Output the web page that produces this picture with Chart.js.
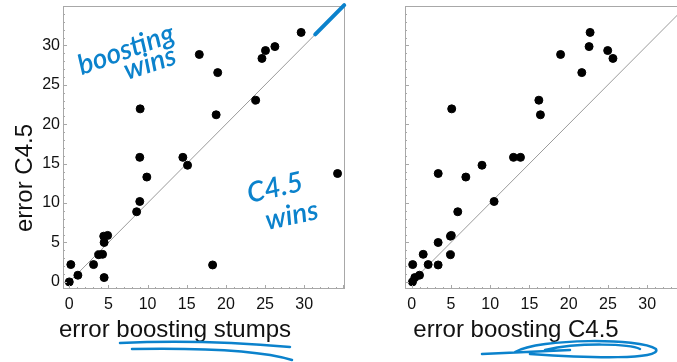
<!DOCTYPE html>
<html>
<head>
<meta charset="utf-8">
<script src="https://cdn.jsdelivr.net/npm/chart.js@4.4.1/dist/chart.umd.min.js"></script>
<style>
  html, body { margin: 0; padding: 0; background: #fff; overflow: hidden; width: 677px; height: 362px; }
  .plot { position: absolute; top: 0; }
</style>
</head>
<body>
<div class="plot" style="left:0"><canvas id="leftChart" width="350" height="362"></canvas></div>
<div class="plot" style="left:340px"><canvas id="rightChart" width="360" height="362"></canvas></div>
<script>
// error of plain C4.5 on each dataset (y of both plots)
const c45Err = [0, 2.2, 0.85, 2.2, 3.45, 3.5, 0.55, 5.0, 5.8, 5.9, 8.9, 10.2, 13.3, 15.8, 21.95,
  15.8, 14.8, 28.85, 2.15, 21.2, 26.55, 23.05, 28.35, 29.35, 29.85, 31.65, 13.75];
// error of boosting stumps (x of left plot)
const stumpsErr = [0, 0.2, 1.1, 3.1, 3.75, 4.25, 4.45, 4.45, 4.4, 4.9, 8.6, 9.0, 9.9, 9.0, 9.05,
  14.5, 15.1, 16.6, 18.3, 18.75, 18.95, 23.8, 24.6, 25.05, 26.25, 29.6, 34.25];
// error of boosting C4.5 (x of right plot)
const boostC45Err = [0.1, 0.13, 1.0, 2.1, 4.94, 1.47, 0.4, 3.37, 4.94, 5.05, 5.87, 10.5, 6.9, 12.97, 5.1,
  13.86, 8.96, 18.97, 3.37, 16.4, 21.67, 16.2, 25.64, 24.97, 22.6, 22.73, 3.38];
const diagEnds = [0, 35];
const tickVals = [0, 5, 10, 15, 20, 25, 30];

const inkBlue = '#0b82cc';
const labelFont = '"Liberation Sans", Arial, sans-serif';

// frame, small inner ticks, axis titles and the blue hand notes
const frameAndNotes = {
  id: 'frameAndNotes',
  afterDatasetsDraw(chart, args, opts) {
    const { ctx, chartArea: a, scales } = chart;
    const sx = scales.x, sy = scales.y;
    ctx.save();
    ctx.strokeStyle = '#a8a8a8';
    ctx.lineWidth = 1;
    ctx.strokeRect(a.left + 0.5, a.top + 0.5, a.right - a.left - 1, a.bottom - a.top - 1);
    ctx.beginPath();
    for (let v = 0; v <= 35; v++) {
      const len = v % 5 === 0 ? 4 : 2;
      const px = Math.round(sx.getPixelForValue(v)) + 0.5;
      if (px < a.right - 1) { ctx.moveTo(px, a.bottom); ctx.lineTo(px, a.bottom - len); }
      const py = Math.round(sy.getPixelForValue(v)) + 0.5;
      if (py > a.top + 1) { ctx.moveTo(a.left, py); ctx.lineTo(a.left + len, py); }
    }
    ctx.stroke();

    ctx.fillStyle = '#111';
    ctx.font = '24px ' + labelFont;
    ctx.textAlign = 'center';
    ctx.textBaseline = 'alphabetic';
    ctx.fillText(opts.xTitle, opts.xTitleX, 337);
    if (opts.yTitle) {
      ctx.save();
      ctx.translate(32, 178);
      ctx.rotate(-Math.PI / 2);
      ctx.fillText(opts.yTitle, 0, 0);
      ctx.restore();
    }

    // hand notes
    ctx.fillStyle = inkBlue;
    ctx.strokeStyle = inkBlue;
    ctx.textAlign = 'left';
    (opts.notes || []).forEach(n => {
      ctx.save();
      ctx.translate(sx.getPixelForValue(n.x), sy.getPixelForValue(n.y));
      ctx.rotate(n.angle * Math.PI / 180);
      ctx.font = 'italic 600 28px Lato, "Open Sans", sans-serif';
      ctx.fillText(n.text, 0, 0);
      ctx.restore();
    });
    if (opts.stroke) {
      ctx.lineCap = 'round';
      ctx.lineWidth = 4;
      ctx.beginPath();
      ctx.moveTo(sx.getPixelForValue(opts.stroke[0]), sy.getPixelForValue(opts.stroke[0]));
      ctx.lineTo(sx.getPixelForValue(opts.stroke[1]), sy.getPixelForValue(opts.stroke[1]));
      ctx.stroke();
    }
    if (opts.scribble) {
      ctx.lineWidth = 2.5;
      ctx.lineCap = 'round';
      opts.scribble(ctx);
    }
    ctx.restore();
  }
};

function makeChart(id, xs, xMin, padRight, yAxisWidth, showYLabels, pluginOpts) {
  const pts = xs.map((x, i) => ({ x: x, y: c45Err[i] }));
  return new Chart(document.getElementById(id), {
    type: 'scatter',
    data: {
      datasets: [
        {
          data: pts,
          backgroundColor: '#000',
          borderColor: '#000',
          pointRadius: 4,
          order: 0
        },
        {
          type: 'line',
          data: diagEnds.map(v => ({ x: v, y: v })),
          borderColor: '#9a9a9a',
          borderWidth: 1,
          pointRadius: 0,
          order: 1
        }
      ]
    },
    options: {
      responsive: false,
      animation: false,
      events: [],
      layout: { padding: { top: 6, right: padRight, left: 0, bottom: 0 } },
      plugins: {
        legend: { display: false },
        tooltip: { enabled: false },
        frameAndNotes: pluginOpts
      },
      scales: {
        x: {
          type: 'linear',
          min: xMin,
          max: 35.2,
          grid: { display: false, drawTicks: false },
          border: { display: false },
          afterBuildTicks: s => { s.ticks = tickVals.map(v => ({ value: v })); },
          afterFit: s => { s.height = 73; s.paddingLeft = 0; s.paddingRight = 0; },
          ticks: { padding: 6, color: '#111', font: { size: 16, family: labelFont } }
        },
        y: {
          type: 'linear',
          min: -0.9,
          max: 35,
          grid: { display: false, drawTicks: false },
          border: { display: false },
          afterBuildTicks: s => { s.ticks = tickVals.map(v => ({ value: v })); },
          afterFit: s => { s.width = yAxisWidth; s.paddingTop = 0; s.paddingBottom = 0; },
          ticks: { display: showYLabels, padding: 3, color: '#111', font: { size: 16, family: labelFont } }
        }
      }
    },
    plugins: [frameAndNotes]
  });
}

makeChart('leftChart', stumpsErr, -0.8, 5, 63, true, {
  xTitle: 'error boosting stumps',
  xTitleX: 175,
  yTitle: 'error C4.5',
  notes: [
    { text: 'boosting', x: 1.6, y: 26.2, angle: -20 },
    { text: 'wins', x: 7.4, y: 25.6, angle: -18 },
    { text: 'C4.5', x: 23.0, y: 10.0, angle: -13 },
    { text: 'wins', x: 25.3, y: 6.6, angle: -12 }
  ],
  stroke: [31.4, 35.1],
  scribble: ctx => {
    ctx.beginPath();
    ctx.moveTo(120, 343);
    ctx.quadraticCurveTo(200, 339, 290, 347);
    ctx.moveTo(132, 349);
    ctx.quadraticCurveTo(250, 347, 292, 360);
    ctx.stroke();
  }
});

makeChart('rightChart', boostC45Err, -0.85, 12, 65, false, {
  xTitle: 'error boosting C4.5',
  xTitleX: 176,
  scribble: ctx => {
    ctx.beginPath();
    ctx.moveTo(142, 354);
    ctx.lineTo(230, 350);
    ctx.moveTo(175, 352);
    ctx.bezierCurveTo(200, 338, 300, 338, 316, 349);
    ctx.bezierCurveTo(322, 360, 250, 358, 190, 354);
    ctx.moveTo(205, 350);
    ctx.bezierCurveTo(240, 342, 290, 344, 300, 349);
    ctx.stroke();
  }
});
</script>
</body>
</html>
